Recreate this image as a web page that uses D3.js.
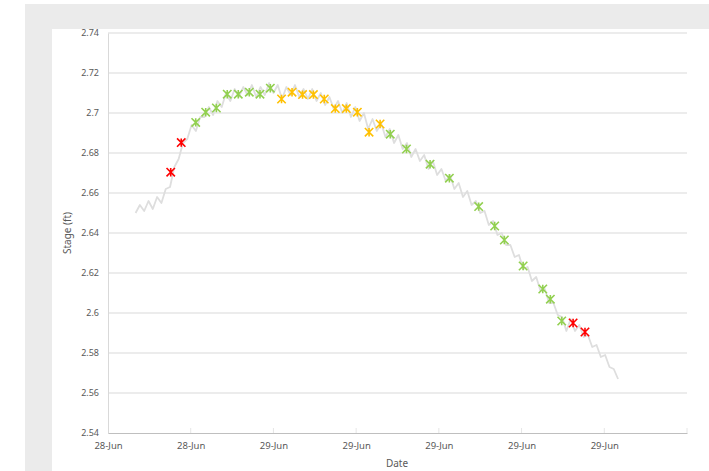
<!DOCTYPE html>
<html>
<head>
<meta charset="utf-8">
<script src="https://cdn.jsdelivr.net/npm/d3@7"></script>
<style>
  html, body { margin: 0; padding: 0; background: #ffffff; }
  svg { display: block; }
</style>
</head>
<body>
<svg id="chart" width="709" height="471"></svg>
<script>
// ---------- DATA (hours since 28-Jun 00:00, stage in ft) ----------
const traceHours = [
  16.00,16.25,16.50,16.75,17.00,17.25,17.50,17.75,18.00,18.25,18.50,18.75,
  19.00,19.25,19.50,19.75,20.00,20.25,20.50,20.75,21.00,21.25,21.50,21.75,
  22.00,22.25,22.50,22.75,23.00,23.25,23.50,23.75,24.00,24.25,24.50,24.75,
  25.00,25.25,25.50,25.75,26.00,26.25,26.50,26.75,27.00,27.25,27.50,27.75,
  28.00,28.25,28.50,28.75,29.00,29.25,29.50,29.75,30.00,30.25,30.50,30.75,
  31.00,31.25,31.50,31.75,32.00,32.25,32.50,32.75,33.00,33.25,33.50,33.75,
  34.00,34.25,34.50,34.75,35.00,35.25,35.50,35.75,36.00,36.25,36.50,36.75,
  37.00,37.25,37.50,37.75,38.00,38.25,38.50,38.75,39.00,39.25,39.50,39.75,
  40.00,40.25,40.50,40.75,41.00,41.25,41.50,41.75,42.00,42.25,42.50,42.75,
  43.00,43.25,43.50,43.75,44.00
];
const traceStage = [
  2.650,2.654,2.651,2.656,2.652,2.658,2.655,2.662,2.663,2.673,2.677,2.685,
  2.687,2.694,2.691,2.698,2.698,2.703,2.699,2.706,2.703,2.710,2.706,2.712,
  2.708,2.713,2.709,2.714,2.708,2.713,2.709,2.715,2.710,2.714,2.707,2.713,
  2.709,2.714,2.708,2.712,2.707,2.712,2.706,2.710,2.704,2.708,2.702,2.706,
  2.700,2.705,2.698,2.703,2.696,2.700,2.692,2.697,2.691,2.695,2.688,2.692,
  2.685,2.689,2.682,2.685,2.678,2.682,2.676,2.679,2.672,2.676,2.669,2.672,
  2.666,2.669,2.662,2.665,2.658,2.661,2.654,2.656,2.650,2.651,2.644,2.646,
  2.639,2.640,2.634,2.634,2.628,2.629,2.622,2.623,2.616,2.618,2.611,2.612,
  2.605,2.605,2.599,2.598,2.591,2.597,2.591,2.594,2.588,2.589,2.583,2.584,
  2.578,2.579,2.573,2.572,2.567
];

const pointHours = [
  18.04,18.65,19.49,20.07,20.69,21.32,21.96,22.60,23.22,23.82,
  24.47,25.08,25.69,26.32,26.95,27.59,28.23,28.87,29.55,30.19,
  30.78,31.72,33.09,34.21,35.91,36.84,37.40,38.49,39.63,40.07,40.73,
  41.39,42.08
];
const pointStage = [
  2.6704,2.6852,2.6953,2.7004,2.7025,2.7094,2.7094,2.7104,2.7094,2.7124,
  2.7070,2.7104,2.7092,2.7092,2.7070,2.7022,2.7022,2.7004,2.6904,2.6945,
  2.6894,2.6820,2.6744,2.6674,2.6532,2.6435,2.6365,2.6235,2.6120,2.6069,2.5960,
  2.5950,2.5905
];
const pointQuality = [
  "poor","poor","good","good","good","good","good","good","good","good",
  "fair","fair","fair","fair","fair","fair","fair","fair","fair","fair",
  "good","good","good","good","good","good","good","good","good","good","good",
  "poor","poor"
];

const xTickHours = [14.4, 19.2, 24.0, 28.8, 33.6, 38.4, 43.2];
const xTickLabels = ["28-Jun","28-Jun","29-Jun","29-Jun","29-Jun","29-Jun","29-Jun"];
const yTicks = [2.54,2.56,2.58,2.6,2.62,2.64,2.66,2.68,2.7,2.72,2.74];
const xDomain = [14.4, 48.0];
const yDomain = [2.54, 2.74];
const qualityNames = ["poor","fair","good"];
const qualityColors = ["#ff0000","#ffc000","#92d050"];

// ---------- DRAW ----------
const svg = d3.select("#chart");
const font = "'Noto Sans', 'Open Sans', sans-serif";
const textColor = "#595959";

// outer backgrounds
svg.append("rect").attr("x", 25).attr("y", 4).attr("width", 684).attr("height", 467).attr("fill", "#ebebeb");
svg.append("rect").attr("x", 52).attr("y", 29).attr("width", 657).attr("height", 442).attr("fill", "#ffffff");

const plot = { left: 108, right: 687, top: 33, bottom: 433 };
const x = d3.scaleLinear().domain(xDomain).range([plot.left, plot.right]);
const y = d3.scaleLinear().domain(yDomain).range([plot.bottom, plot.top]);
const color = d3.scaleOrdinal().domain(qualityNames).range(qualityColors);

// gridlines
svg.append("g")
  .selectAll("line")
  .data(yTicks.slice(1))
  .join("line")
  .attr("x1", plot.left).attr("x2", plot.right)
  .attr("y1", d => y(d)).attr("y2", d => y(d))
  .attr("stroke", "#d9d9d9").attr("stroke-width", 1);

// y axis
const yAxis = svg.append("g")
  .attr("transform", `translate(${plot.left},0)`)
  .call(d3.axisLeft(y).tickValues(yTicks).tickFormat(d => d3.format("")(+d.toFixed(2))).tickSize(0).tickPadding(9));
yAxis.select(".domain").attr("stroke", "#d9d9d9");
yAxis.selectAll("text").attr("font-family", font).attr("font-size", "9px").attr("fill", textColor);

// x axis
const xAxis = svg.append("g")
  .attr("transform", `translate(0,${plot.bottom})`)
  .call(d3.axisBottom(x).tickValues(xTickHours).tickFormat((d, i) => xTickLabels[i]).tickSize(0).tickPadding(9));
xAxis.select(".domain").attr("stroke", "#bfbfbf");
xAxis.selectAll("text").attr("font-family", font).attr("font-size", "9.5px").attr("fill", textColor);

// faint inner tick marks
svg.append("g").selectAll("line")
  .data(xTickHours.slice(1).concat([xDomain[1]]))
  .join("line")
  .attr("x1", d => x(d)).attr("x2", d => x(d))
  .attr("y1", plot.bottom - 5).attr("y2", plot.bottom)
  .attr("stroke", "#e6e6e6").attr("stroke-width", 1);

// trace line
const line = d3.line().x((d, i) => x(traceHours[i])).y(d => y(d));
svg.append("path")
  .datum(traceStage)
  .attr("d", line)
  .attr("fill", "none")
  .attr("stroke", "#dedede")
  .attr("stroke-width", 1.8)
  .attr("stroke-linejoin", "round");

// star markers
const s = 4.2;
const starPath = `M${-s},${-s}L${s},${s}M${-s},${s}L${s},${-s}M0,${-s}L0,${s}`;
svg.append("g").selectAll("path")
  .data(pointStage)
  .join("path")
  .attr("transform", (d, i) => `translate(${x(pointHours[i])},${y(d)})`)
  .attr("d", starPath)
  .attr("fill", "none")
  .attr("stroke", (d, i) => color(pointQuality[i]))
  .attr("stroke-width", 1.6);

// axis titles
svg.append("text")
  .attr("x", 397).attr("y", 467)
  .attr("text-anchor", "middle")
  .attr("font-family", font).attr("font-size", "10px").attr("fill", textColor)
  .text("Date");
svg.append("text")
  .attr("transform", "translate(71,233) rotate(-90)")
  .attr("text-anchor", "middle")
  .attr("font-family", font).attr("font-size", "10px").attr("fill", textColor)
  .text("Stage (ft)");
</script>
</body>
</html>
